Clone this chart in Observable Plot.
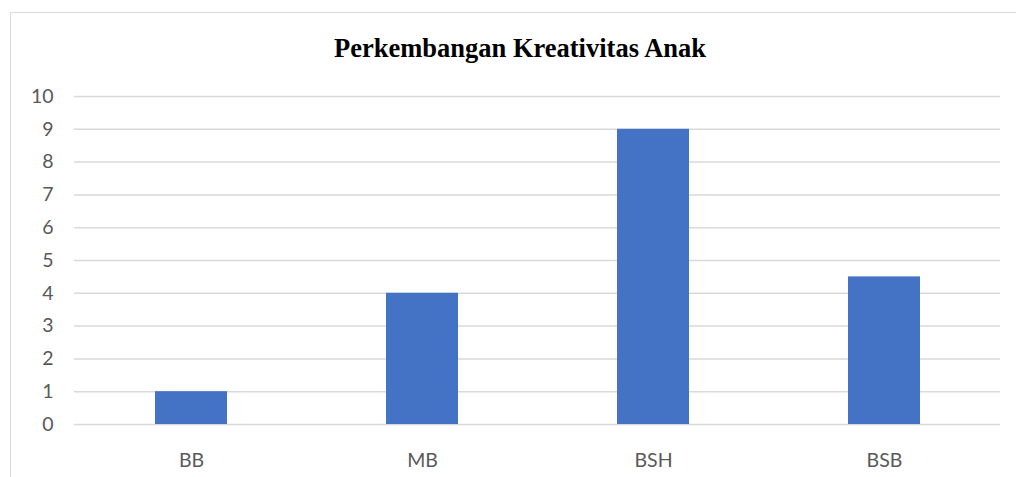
<!DOCTYPE html>
<html>
<head>
<meta charset="utf-8">
<script src="https://cdn.jsdelivr.net/npm/d3@7"></script>
<script src="https://cdn.jsdelivr.net/npm/@observablehq/plot@0.6"></script>
<style>
  html, body { margin: 0; padding: 0; background: #fff; }
  #wrap { position: relative; width: 1016px; height: 477px; overflow: hidden; }
  #frame { position: absolute; left: 10px; top: 12px; width: 1100px; height: 600px;
           border-left: 1.5px solid #d9d9d9; border-top: 1.5px solid #d9d9d9; }
  #title { position: absolute; left: 0; top: 33px; width: 1040px; text-align: center;
           font-family: "Liberation Serif", "Times New Roman", serif; font-weight: bold; font-size: 26.5px; color: #000; }
  #chart { position: absolute; left: 0; top: 0; }
</style>
</head>
<body>
<div id="wrap">
  <div id="frame"></div>
  <div id="title">Perkembangan Kreativitas Anak</div>
  <div id="chart"></div>
</div>
<script>
const categories = ["BB", "MB", "BSH", "BSB"];
const values = [1, 4, 9, 4.5];
const yTicks = [0, 1, 2, 3, 4, 5, 6, 7, 8, 9, 10];

const data = categories.map((c, i) => ({category: c, value: values[i]}));

const chart = Plot.plot({
  width: 1016,
  height: 477,
  marginTop: 96,
  marginBottom: 53,
  marginLeft: 74,
  marginRight: 16,
  style: {fontFamily: "Lato, 'Open Sans', sans-serif", fontSize: "19.5px", color: "#595959", background: "transparent"},
  x: {domain: categories, paddingInner: 0.69, paddingOuter: 0.345, label: null},
  y: {domain: [0, 10], label: null},
  marks: [
    Plot.ruleY(yTicks, {stroke: "#d9d9d9", strokeWidth: 1.5}),
    Plot.barY(data, {x: "category", y: "value", fill: "#4472c4"}),
    Plot.axisY(yTicks, {tickSize: 0, tickPadding: 21, fontSize: 19.5, fill: "#595959", label: null}),
    Plot.axisX({tickSize: 0, tickPadding: 29, fontSize: 19.5, fill: "#595959", label: null})
  ]
});
document.getElementById("chart").appendChild(chart);
</script>
</body>
</html>
